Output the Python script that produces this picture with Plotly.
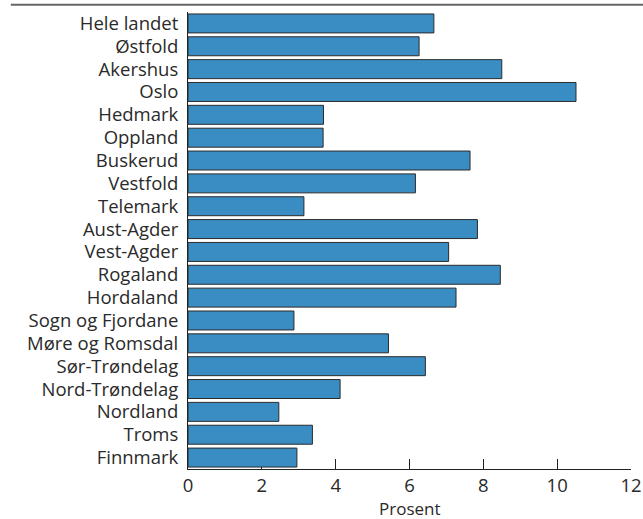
import plotly.graph_objects as go

categories = ["Hele landet", "Østfold", "Akershus", "Oslo", "Hedmark", "Oppland",
              "Buskerud", "Vestfold", "Telemark", "Aust-Agder", "Vest-Agder",
              "Rogaland", "Hordaland", "Sogn og Fjordane", "Møre og Romsdal",
              "Sør-Trøndelag", "Nord-Trøndelag", "Nordland", "Troms", "Finnmark"]
values = [6.66, 6.26, 8.50, 10.51, 3.67, 3.66, 7.64, 6.16, 3.14, 7.84, 7.06,
          8.46, 7.26, 2.87, 5.43, 6.43, 4.12, 2.46, 3.37, 2.95]
x_ticks = [0, 2, 4, 6, 8, 10, 12]
x_title = "Prosent"

fig = go.Figure(go.Bar(
    x=values, y=categories, orientation="h",
    marker=dict(color="#3A8DC3", line=dict(color="#2b2b2b", width=1)),
))

font_family = "Open Sans"
fig.update_layout(
    width=643, height=519,
    margin=dict(l=188, r=12, t=12, b=50),
    plot_bgcolor="white", paper_bgcolor="white",
    bargap=0.17,
    showlegend=False,
    font=dict(family=font_family, size=18, color="#2a2a2a"),
    xaxis=dict(range=[0, 12], tickvals=x_ticks, ticks="inside", ticklen=10,
               tickcolor="#222", tickwidth=1, showline=True, linecolor="#222",
               linewidth=1, showgrid=False, zeroline=False, automargin=False,
               layer="below traces", tickfont=dict(size=18.5)),
    yaxis=dict(autorange="reversed", showline=True, linecolor="#222", linewidth=1,
               ticks="", showgrid=False, zeroline=False, ticklabelstandoff=5,
               automargin=False, tickfont=dict(size=18.5)),
    shapes=[dict(type="line", xref="paper", yref="paper",
                 x0=-0.40, x1=1.03, y0=1.016, y1=1.016,
                 line=dict(color="#666", width=2))],
    annotations=[dict(text=x_title, xref="paper", yref="paper", x=0.5, y=0,
                      yshift=-39, yanchor="middle", showarrow=False,
                      font=dict(size=17))],
)

fig.write_html("out.html",
               config={"displayModeBar": False},
               post_script="document.body.style.margin='0';document.body.style.overflow='hidden';")
